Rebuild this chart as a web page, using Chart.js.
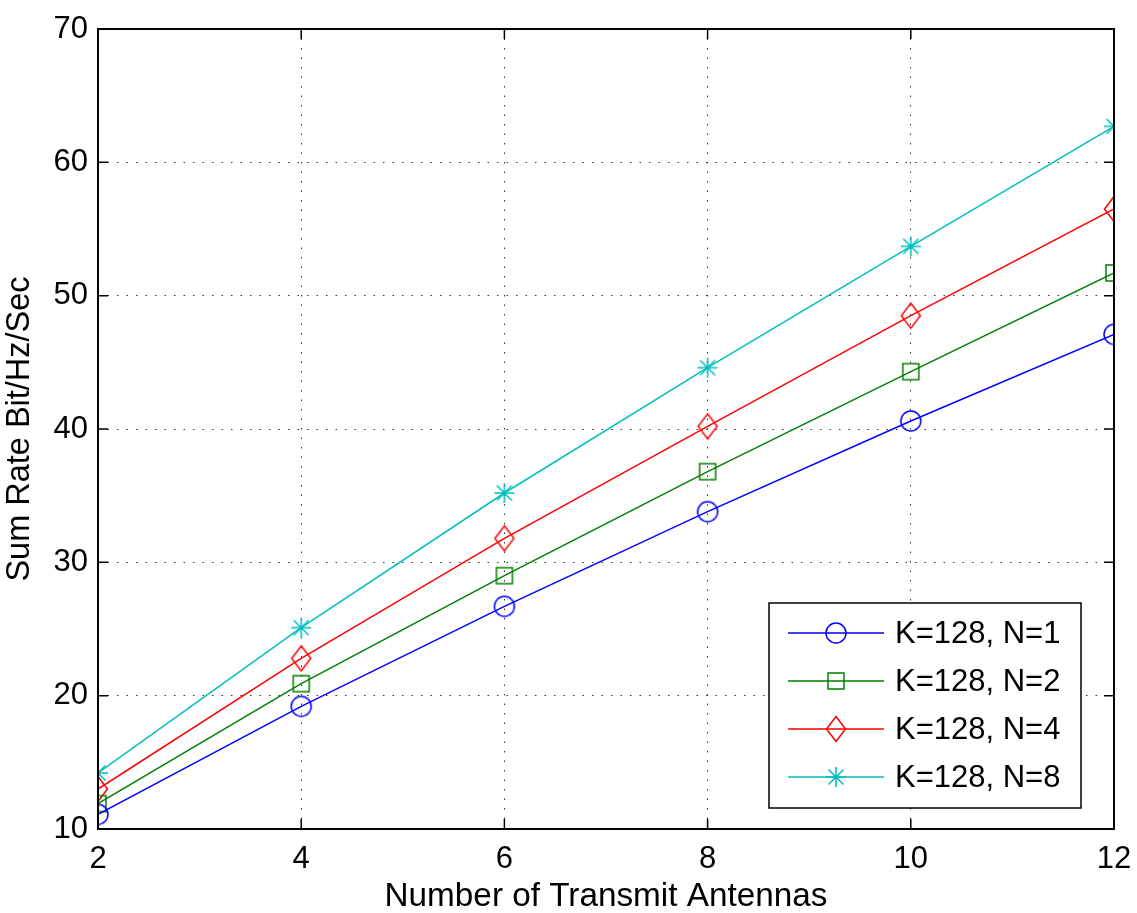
<!DOCTYPE html>
<html>
<head>
<meta charset="utf-8">
<script src="https://cdn.jsdelivr.net/npm/chart.js@4/dist/chart.umd.min.js"></script>
<style>
  html, body { margin: 0; padding: 0; background: #fff; }
  canvas { display: block; }
</style>
</head>
<body>
<canvas id="rateChart" width="1137" height="913"></canvas>
<script>
// number of transmit antennas
const antennas = [2, 4, 6, 8, 10, 12];

// sum rate (bit/Hz/sec) for K=128 users, N = 1, 2, 4, 8
const rateN1 = [11.1, 19.2, 26.7, 33.8, 40.6, 47.1];
const rateN2 = [11.9, 20.9, 29.0, 36.8, 44.3, 51.7];
const rateN4 = [13.0, 22.8, 31.8, 40.2, 48.5, 56.5];
const rateN8 = [14.2, 25.1, 35.2, 44.6, 53.7, 62.7];

const seriesLabels = ["K=128, N=1", "K=128, N=2", "K=128, N=4", "K=128, N=8"];

const FONT = "'Liberation Sans', Arial, Helvetica, sans-serif";

// matlab-like marker images
function makeMarker(kind, color) {
  const c = document.createElement("canvas");
  c.width = 28;
  c.height = 30;
  const g = c.getContext("2d");
  const cx = c.width / 2, cy = c.height / 2;
  g.strokeStyle = color;
  g.lineWidth = 1.5;
  g.beginPath();
  if (kind === "circle") {
    g.arc(cx, cy, 10, 0, Math.PI * 2);
  } else if (kind === "square") {
    g.rect(cx - 8, cy - 8, 16, 16);
  } else if (kind === "diamond") {
    g.moveTo(cx, cy - 12.5);
    g.lineTo(cx + 9.5, cy);
    g.lineTo(cx, cy + 12.5);
    g.lineTo(cx - 9.5, cy);
    g.closePath();
  } else if (kind === "star") {
    const r = 10, d = 7.5;
    g.moveTo(cx - r, cy); g.lineTo(cx + r, cy);
    g.moveTo(cx, cy - r); g.lineTo(cx, cy + r);
    g.moveTo(cx - d, cy - d); g.lineTo(cx + d, cy + d);
    g.moveTo(cx - d, cy + d); g.lineTo(cx + d, cy - d);
  }
  g.stroke();
  return c;
}

function makeDataset(label, values, color, marker) {
  return {
    label: label,
    data: antennas.map((x, i) => ({ x: x, y: values[i] })),
    borderColor: color,
    backgroundColor: color,
    borderWidth: 1.5,
    pointStyle: makeMarker(marker, color),
    pointRadius: 10,
    pointHoverRadius: 10,
    tension: 0,
    fill: false,
  };
}

const datasets = [
  makeDataset(seriesLabels[0], rateN1, "#0000ff", "circle"),
  makeDataset(seriesLabels[1], rateN2, "#008000", "square"),
  makeDataset(seriesLabels[2], rateN4, "#ff0000", "diamond"),
  makeDataset(seriesLabels[3], rateN8, "#00bfbf", "star"),
];

// box around the axes + inward ticks on all four sides
const framePlugin = {
  id: "frame",
  afterDatasetsDraw(chart) {
    const { ctx, chartArea: a, scales } = chart;
    ctx.save();
    ctx.strokeStyle = "#000";
    ctx.lineWidth = 1.5;
    ctx.beginPath();
    const tl = 10;
    scales.x.ticks.forEach((t) => {
      const px = scales.x.getPixelForValue(t.value);
      ctx.moveTo(px, a.bottom); ctx.lineTo(px, a.bottom - tl);
      ctx.moveTo(px, a.top); ctx.lineTo(px, a.top + tl);
    });
    scales.y.ticks.forEach((t) => {
      const py = scales.y.getPixelForValue(t.value);
      ctx.moveTo(a.left, py); ctx.lineTo(a.left + tl, py);
      ctx.moveTo(a.right, py); ctx.lineTo(a.right - tl, py);
    });
    ctx.stroke();
    ctx.lineWidth = 2;
    ctx.strokeRect(a.left, a.top, a.right - a.left, a.bottom - a.top);
    ctx.restore();
  },
};

// legend box in the lower right corner
const legendPlugin = {
  id: "boxLegend",
  afterDraw(chart) {
    const { ctx } = chart;
    const box = { x: 769, y: 603, w: 312, h: 205 };
    const rowY = [633, 681, 729, 777];
    ctx.save();
    ctx.fillStyle = "#fff";
    ctx.fillRect(box.x, box.y, box.w, box.h);
    ctx.strokeStyle = "#000";
    ctx.lineWidth = 1.5;
    ctx.strokeRect(box.x, box.y, box.w, box.h);
    ctx.font = "31px " + FONT;
    ctx.textBaseline = "middle";
    chart.data.datasets.forEach((ds, i) => {
      const y = rowY[i];
      ctx.strokeStyle = ds.borderColor;
      ctx.lineWidth = 1.5;
      ctx.beginPath();
      ctx.moveTo(788, y);
      ctx.lineTo(884, y);
      ctx.stroke();
      const img = ds.pointStyle;
      ctx.drawImage(img, 836 - img.width / 2, y - img.height / 2);
      ctx.fillStyle = "#000";
      ctx.fillText(ds.label, 895, y + 1);
    });
    ctx.restore();
  },
};

new Chart(document.getElementById("rateChart").getContext("2d"), {
  type: "line",
  data: { datasets: datasets },
  options: {
    responsive: false,
    animation: false,
    devicePixelRatio: 1,
    layout: { padding: { top: 29, right: 23, left: 0, bottom: 0 } },
    plugins: {
      legend: { display: false },
      tooltip: { enabled: false },
    },
    scales: {
      x: {
        type: "linear",
        min: 2,
        max: 12,
        ticks: {
          stepSize: 2,
          color: "#000",
          font: { family: FONT, size: 31 },
          padding: 12,
          maxRotation: 0,
        },
        grid: { color: "#333", lineWidth: 1, drawTicks: false },
        border: { display: false, dash: [1.5, 8] },
        title: {
          display: true,
          text: "Number of Transmit Antennas",
          color: "#000",
          font: { family: FONT, size: 33.3 },
          padding: { top: 0, bottom: -4 },
        },
        afterFit(scale) {
          scale.height = 84;
          // let the "12" label hang into the right margin
          scale.paddingLeft = 0;
          scale.paddingRight = 0;
        },
      },
      y: {
        min: 10,
        max: 70,
        ticks: {
          stepSize: 10,
          color: "#000",
          font: { family: FONT, size: 31 },
          padding: 10,
        },
        grid: { color: "#333", lineWidth: 1, drawTicks: false },
        border: { display: false, dash: [1.5, 8] },
        title: {
          display: true,
          text: "Sum Rate Bit/Hz/Sec",
          color: "#000",
          font: { family: FONT, size: 32.5 },
          padding: { top: 1, bottom: 0 },
        },
        afterFit(scale) { scale.width = 98; },
      },
    },
  },
  plugins: [framePlugin, legendPlugin],
});
</script>
</body>
</html>
